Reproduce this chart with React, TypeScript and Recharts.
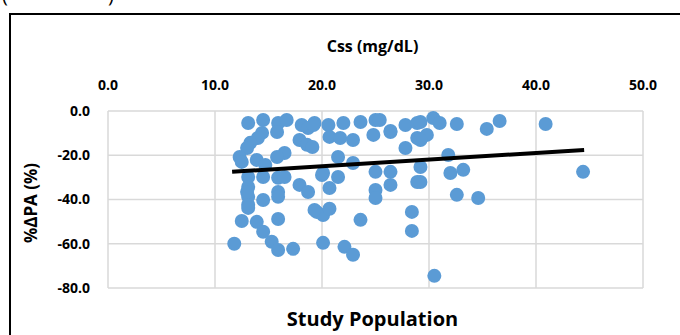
import React from 'react';
import { ScatterChart, Scatter, XAxis, YAxis, CartesianGrid } from 'recharts';

// Css (mg/dL) vs %ΔPA (%)
const cssValues = [
  13.1, 14.5, 15.9, 16.7, 18.1, 19.3, 18.7, 15.8, 14.4, 14.0, 13.3, 13.0, 17.9, 18.6, 16.5, 15.8,
  12.3, 12.5, 13.9, 14.7, 13.1, 14.5, 15.9, 13.1, 13.1, 13.1, 15.9, 14.5, 17.9, 18.7, 20.0, 12.5,
  13.9, 15.9, 14.5, 15.3, 15.9, 17.3, 11.8, 19.5, 20.1, 20.1, 19.2, 20.6, 22.0, 23.6, 25.0, 20.7,
  21.7, 22.9, 24.8, 26.4, 27.8, 28.9, 27.8, 28.9, 19.1, 21.5, 22.9, 20.1, 21.5, 20.7, 25.0, 26.4,
  26.4, 25.0, 28.9, 19.3, 20.7, 23.6, 22.1, 22.9, 25.0, 28.4, 28.4, 29.2, 30.4, 31.0, 32.6, 35.4,
  36.6, 40.9, 29.8, 29.2, 31.8, 29.2, 29.2, 32.0, 33.2, 32.6, 34.6, 30.5, 44.4, 25.4, 26.4, 13.1,
  13.0, 16.5, 15.9,
];
const dpaValues = [
  -5.4, -4.1, -5.4, -4.1, -6.3, -5.4, -7.7, -9.5, -9.9, -12.2, -14.4, -16.7, -13.1, -15.3, -19.0, -20.8,
  -20.8, -23.0, -22.1, -24.4, -29.8, -29.8, -30.2, -34.3, -38.8, -42.4, -36.6, -40.2, -33.4, -36.6, -28.9, -49.7,
  -50.1, -48.8, -54.6, -59.1, -62.8, -62.3, -60.0, -45.6, -47.0, -59.6, -6.3, -6.3, -5.4, -5.0, -4.1, -11.7,
  -12.2, -13.1, -10.8, -9.5, -6.3, -5.4, -16.7, -12.2, -16.3, -20.8, -23.5, -28.0, -29.8, -34.8, -27.5, -27.5,
  -33.4, -35.7, -32.1, -44.7, -44.2, -49.2, -61.4, -65.0, -39.3, -45.6, -54.2, -5.0, -3.2, -5.4, -5.9, -8.1,
  -4.5, -5.9, -10.8, -13.1, -19.9, -25.3, -32.1, -28.0, -26.6, -37.9, -39.3, -74.5, -27.5, -4.1, -9.0, -43.8,
  -36.6, -29.8, -38.8,
];

const trendX = [11.6, 44.5];
const trendY = [-27.5, -17.6];

const xTicks = [0, 10, 20, 30, 40, 50];
const yTicks = [-80, -60, -40, -20, 0];

const points = cssValues.map((x, i) => ({ x, y: dpaValues[i] }));
const trend = trendX.map((x, i) => ({ x, y: trendY[i] }));

const FONT = '"Open Sans", sans-serif';
const DOT = '#5B9BD5';

const Dot = (props: any) => {
  const { cx, cy } = props;
  if (cx == null || cy == null) return null;
  return <circle cx={cx} cy={cy} r={7} fill={DOT} />;
};

const App = () => {
  return (
    <div
      style={{
        position: 'absolute',
        left: 0,
        top: 0,
        width: 680,
        height: 335,
        overflow: 'hidden',
        background: '#fff',
        fontFamily: FONT,
      }}
    >
      <div style={{ position: 'absolute', top: -15, left: 2, fontSize: 20, lineHeight: '20px' }}>(</div>
      <div style={{ position: 'absolute', top: -15, left: 108, fontSize: 20, lineHeight: '20px' }}>)</div>
      <div
        style={{
          position: 'absolute',
          left: 9,
          top: 13,
          width: 680,
          height: 340,
          border: '2px solid #000',
          boxSizing: 'border-box',
        }}
      />
      <div
        style={{
          position: 'absolute',
          top: 35,
          left: 0,
          width: 745,
          textAlign: 'center',
          fontWeight: 700,
          fontSize: 16,
        }}
      >
        Css (mg/dL)
      </div>
      <div
        style={{
          position: 'absolute',
          top: 305,
          left: 0,
          width: 745,
          textAlign: 'center',
          fontWeight: 700,
          fontSize: 20,
        }}
      >
        Study Population
      </div>
      <div
        style={{
          position: 'absolute',
          left: 30,
          top: 203,
          transform: 'translate(-50%, -50%) rotate(-90deg)',
          whiteSpace: 'nowrap',
          fontWeight: 700,
          fontSize: 17,
        }}
      >
        %ΔPA (%)
      </div>
      <div style={{ position: 'absolute', left: 0, top: 0 }}>
        <ScatterChart width={680} height={335} margin={{ top: 81, right: 37, bottom: 47, left: 48 }}>
          <CartesianGrid stroke="#d9d9d9" strokeWidth={1.5} />
          <XAxis
            type="number"
            dataKey="x"
            orientation="top"
            domain={[0, 50]}
            ticks={xTicks}
            height={30}
            axisLine={false}
            tickLine={false}
            tickMargin={15}
            tickFormatter={(v: number) => v.toFixed(1)}
            tick={{ fill: '#000', fontSize: 14, fontWeight: 700, fontFamily: FONT }}
          />
          <YAxis
            type="number"
            dataKey="y"
            domain={[-80, 0]}
            ticks={yTicks}
            width={60}
            axisLine={false}
            tickLine={false}
            tickMargin={12}
            tickFormatter={(v: number) => v.toFixed(1)}
            tick={{ fill: '#000', fontSize: 14, fontWeight: 700, fontFamily: FONT }}
          />
          <Scatter data={points} shape={<Dot />} isAnimationActive={false} />
          <Scatter
            data={trend}
            line={{ stroke: '#000', strokeWidth: 4 }}
            shape={() => null}
            isAnimationActive={false}
          />
        </ScatterChart>
      </div>
    </div>
  );
};

export default App;
